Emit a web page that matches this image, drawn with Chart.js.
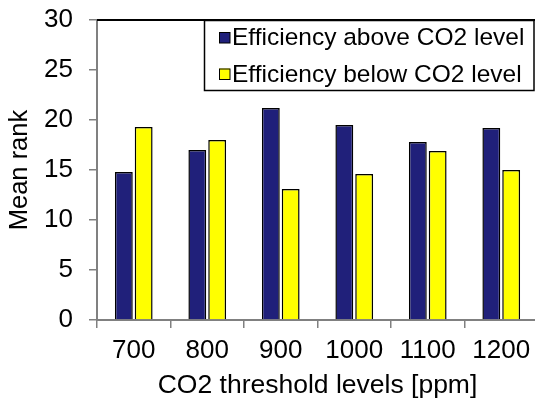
<!DOCTYPE html>
<html>
<head>
<meta charset="utf-8">
<script src="https://cdn.jsdelivr.net/npm/chart.js@4/dist/chart.umd.min.js"></script>
<style>
  html, body { margin: 0; padding: 0; overflow: hidden; background: #fff; }
  #wrap { width: 535px; height: 405px; overflow: hidden; }
</style>
</head>
<body>
<div id="wrap"><canvas id="myChart" width="545" height="405"></canvas></div>
<script>
// datos del grafico
const categorias = ["700", "800", "900", "1000", "1100", "1200"];
const sobreCO2 = [14.8, 17.0, 21.2, 19.5, 17.8, 19.2];   // Efficiency above CO2 level
const bajoCO2 = [19.3, 18.0, 13.1, 14.6, 16.9, 15.0];    // Efficiency below CO2 level
const etiquetas = ["Efficiency above CO2 level", "Efficiency below CO2 level"];
const yTicks = [0, 5, 10, 15, 20, 25, 30];

const fuente = "'Liberation Sans', Arial, sans-serif";
const gris = "#808080";

// borde superior del area y leyenda con marco
const leyendaCaja = {
  id: "leyendaCaja",
  afterDraw(chart) {
    const ctx = chart.ctx;
    const area = chart.chartArea;
    ctx.save();
    ctx.strokeStyle = "#000";
    ctx.lineWidth = 2;
    ctx.beginPath();
    ctx.moveTo(area.left, area.top);
    ctx.lineTo(area.right, area.top);
    ctx.stroke();

    ctx.fillStyle = "#fff";
    ctx.fillRect(204, 20, 330, 70.5);
    ctx.lineWidth = 1.5;
    ctx.strokeRect(204.5, 20.5, 329.5, 70);
    ctx.font = "24.5px " + fuente;
    ctx.textBaseline = "alphabetic";
    chart.data.datasets.forEach((ds, i) => {
      const y = 32 + i * 36.5;
      ctx.fillStyle = ds.backgroundColor;
      ctx.fillRect(219, y, 11, 11);
      ctx.lineWidth = 1;
      ctx.strokeRect(219.5, y + 0.5, 10.5, 10.5);
      ctx.fillStyle = "#000";
      ctx.fillText(ds.label, 232, y + 13);
    });
    ctx.restore();
  }
};

const config = {
  type: "bar",
  data: {
    labels: categorias,
    datasets: [
      {
        label: etiquetas[0],
        data: sobreCO2,
        backgroundColor: "#20207a",
        borderColor: "#000",
        borderWidth: 1.5,
        categoryPercentage: 0.54,
        barPercentage: 0.9
      },
      {
        label: etiquetas[1],
        data: bajoCO2,
        backgroundColor: "#ffff00",
        borderColor: "#000",
        borderWidth: 1.5,
        categoryPercentage: 0.54,
        barPercentage: 0.9
      }
    ]
  },
  options: {
    responsive: false,
    animation: false,
    layout: { padding: { left: 0, right: 7, top: 20, bottom: 0 }, autoPadding: false },
    plugins: {
      legend: { display: false },
      tooltip: { enabled: false }
    },
    scales: {
      x: {
        type: "category",
        position: "bottom",
        grid: { display: true, drawOnChartArea: false, drawTicks: true, tickLength: 8, color: gris, lineWidth: 1.5, offset: true },
        border: { display: true, color: gris, width: 2 },
        ticks: { color: "#000", font: { family: fuente, size: 26 }, padding: 7, maxRotation: 0 },
        title: { display: true, text: "CO2 threshold levels [ppm]", color: "#000", font: { family: fuente, size: 26.5 }, padding: { top: 0, bottom: 3 } },
        afterFit(scale) { scale.height = 85; scale.paddingLeft = 0; scale.paddingRight = 0; }
      },
      y: {
        min: 0,
        max: 30,
        afterBuildTicks(scale) { scale.ticks = yTicks.map(v => ({ value: v })); },
        grid: { display: true, drawOnChartArea: false, drawTicks: true, tickLength: 8, color: gris, lineWidth: 1.5 },
        border: { display: true, color: gris, width: 2 },
        ticks: { color: "#000", font: { family: fuente, size: 26 }, padding: 16 },
        title: { display: true, text: "Mean rank", color: "#000", font: { family: fuente, size: 25.5 }, padding: { top: 5, bottom: 0 } },
        afterFit(scale) { scale.width = 97; scale.paddingTop = 0; scale.paddingBottom = 0; }
      }
    }
  },
  plugins: [leyendaCaja]
};

const myChart = new Chart(document.getElementById("myChart"), config);
</script>
</body>
</html>
